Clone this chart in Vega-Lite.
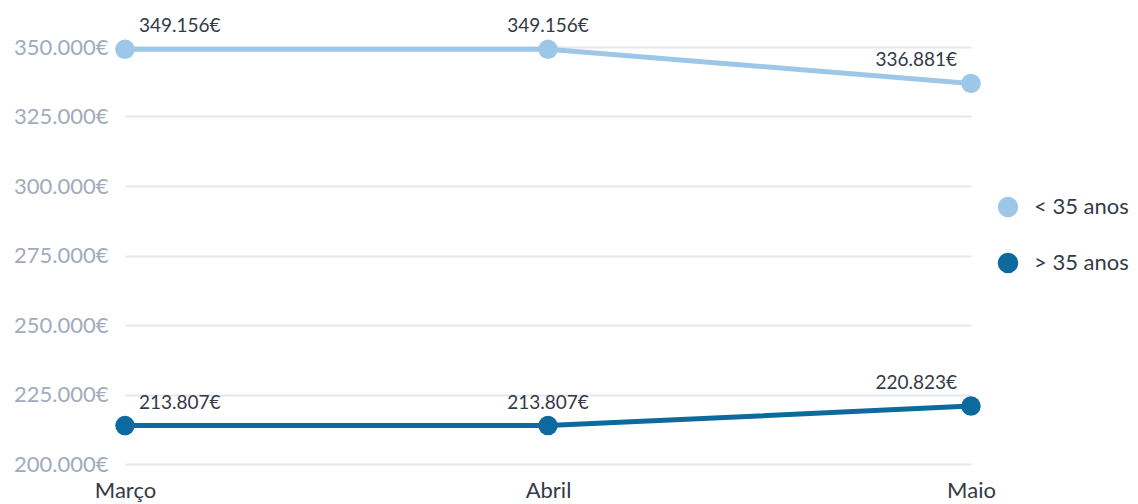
{
  "$schema": "https://vega.github.io/schema/vega-lite/v6.json",
  "width": 846,
  "height": 417,
  "autosize": {"type": "none"},
  "padding": {"left": 125, "top": 47, "right": 167, "bottom": 40},
  "background": "white",
  "config": {
    "view": {"stroke": null},
    "font": "Lato",
    "locale": {"number": {"decimal": ",", "thousands": ".", "grouping": [3], "currency": ["", "€"]}}
  },
  "data": {"values": [
    {"mes": "Março", "grupo": "< 35 anos", "valor": 349156},
    {"mes": "Abril", "grupo": "< 35 anos", "valor": 349156},
    {"mes": "Maio", "grupo": "< 35 anos", "valor": 336881},
    {"mes": "Março", "grupo": "> 35 anos", "valor": 213807},
    {"mes": "Abril", "grupo": "> 35 anos", "valor": 213807},
    {"mes": "Maio", "grupo": "> 35 anos", "valor": 220823}
  ]},
  "encoding": {
    "x": {"field": "mes", "type": "ordinal", "sort": ["Março", "Abril", "Maio"],
      "scale": {"type": "point", "padding": 0},
      "axis": {"title": null, "labelAngle": 0, "ticks": false, "domain": false, "grid": false,
        "labelFontSize": 22, "labelColor": "#343a46", "labelPadding": 16}},
    "y": {"field": "valor", "type": "quantitative",
      "scale": {"domain": [200000, 350000], "nice": false, "zero": false},
      "axis": {"title": null, "values": [200000, 225000, 250000, 275000, 300000, 325000, 350000],
        "format": "$,.0f", "ticks": false, "domain": false, "gridColor": "#e3e7f0", "gridWidth": 2,
        "labelFontSize": 22, "labelColor": "#a1abbc", "labelPadding": 17}},
    "color": {"field": "grupo", "type": "nominal",
      "scale": {"domain": ["< 35 anos", "> 35 anos"], "range": ["#9dc7e9", "#0d6a9e"]},
      "legend": {"title": null, "orient": "none", "legendX": 872, "legendY": 149,
        "symbolType": "circle", "symbolSize": 420, "symbolStrokeWidth": 0, "symbolOpacity": 1,
        "labelFontSize": 22, "labelColor": "#343a46", "labelOffset": 15, "rowPadding": 34,
        "labelBaseline": "middle", "labelAlign": "left"}}
  },
  "layer": [
    {"mark": {"type": "line", "strokeWidth": 5}},
    {"mark": {"type": "point", "filled": true, "size": 380, "opacity": 1}},
    {"transform": [{"filter": "datum.mes === 'Março'"}],
      "mark": {"type": "text", "align": "left", "dx": 14, "dy": -23, "fontSize": 19},
      "encoding": {"text": {"field": "valor", "type": "quantitative", "format": "$,.0f"}, "color": {"value": "#343a46"}}},
    {"transform": [{"filter": "datum.mes === 'Abril'"}],
      "mark": {"type": "text", "align": "center", "dy": -23, "fontSize": 19},
      "encoding": {"text": {"field": "valor", "type": "quantitative", "format": "$,.0f"}, "color": {"value": "#343a46"}}},
    {"transform": [{"filter": "datum.mes === 'Maio'"}],
      "mark": {"type": "text", "align": "right", "dx": -14, "dy": -23, "fontSize": 19},
      "encoding": {"text": {"field": "valor", "type": "quantitative", "format": "$,.0f"}, "color": {"value": "#343a46"}}}
  ]
}
